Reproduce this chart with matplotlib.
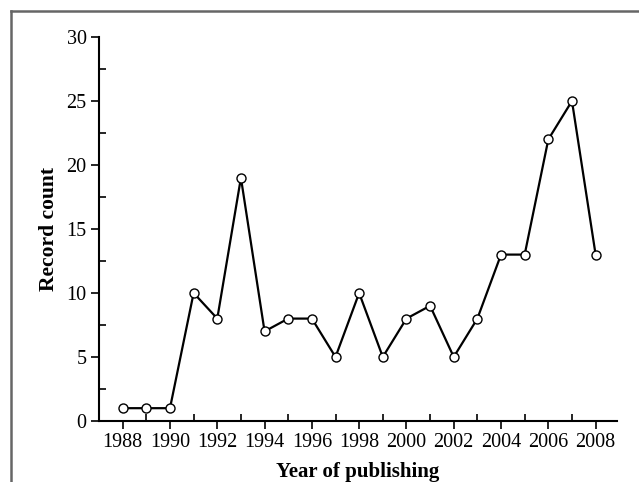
import matplotlib
matplotlib.use("Agg")
import matplotlib.pyplot as plt
from matplotlib.ticker import MultipleLocator
from matplotlib.lines import Line2D

years = [1988, 1989, 1990, 1991, 1992, 1993, 1994, 1995, 1996, 1997, 1998,
         1999, 2000, 2001, 2002, 2003, 2004, 2005, 2006, 2007, 2008]
counts = [1, 1, 1, 10, 8, 19, 7, 8, 8, 5, 10, 5, 8, 9, 5, 8, 13, 13, 22, 25, 13]
xticks = list(range(1988, 2009, 2))
yticks = [0, 5, 10, 15, 20, 25, 30]

plt.rcParams['font.family'] = ['Liberation Serif', 'DejaVu Serif']

fig = plt.figure(figsize=(6.39, 4.82), dpi=100)
ax = fig.add_axes([0.155, 0.1266, 0.8104, 0.7966])

ax.plot(years, counts, color='black', linewidth=1.6, marker='o', markersize=6.5,
        markerfacecolor='white', markeredgecolor='black', markeredgewidth=1.0,
        zorder=3)

ax.set_xlim(1987.0, 2008.9)
ax.set_ylim(0, 30)
ax.set_xticks(xticks)
ax.set_yticks(yticks)
ax.xaxis.set_minor_locator(MultipleLocator(1))
ax.yaxis.set_minor_locator(MultipleLocator(2.5))
ax.tick_params(which='major', direction='out', length=6, width=1.2, labelsize=14.5, pad=3)
ax.tick_params(which='minor', direction='in', length=5, width=1.2)
for s in ['top', 'right']:
    ax.spines[s].set_visible(False)
for s in ['left', 'bottom']:
    ax.spines[s].set_linewidth(1.5)

ax.set_xlabel('Year of publishing', fontsize=15, fontweight='bold', labelpad=7)
ax.set_ylabel('Record count', fontsize=15.5, fontweight='bold', labelpad=5)

# outer frame (top and left edges visible)
fig.add_artist(Line2D([11/639, 1.0], [1 - 11/482, 1 - 11/482], transform=fig.transFigure,
                      color='#666666', linewidth=1.8))
fig.add_artist(Line2D([11/639, 11/639], [0.0, 1 - 11/482], transform=fig.transFigure,
                      color='#666666', linewidth=1.8))

fig.savefig('out.png', dpi=100)
